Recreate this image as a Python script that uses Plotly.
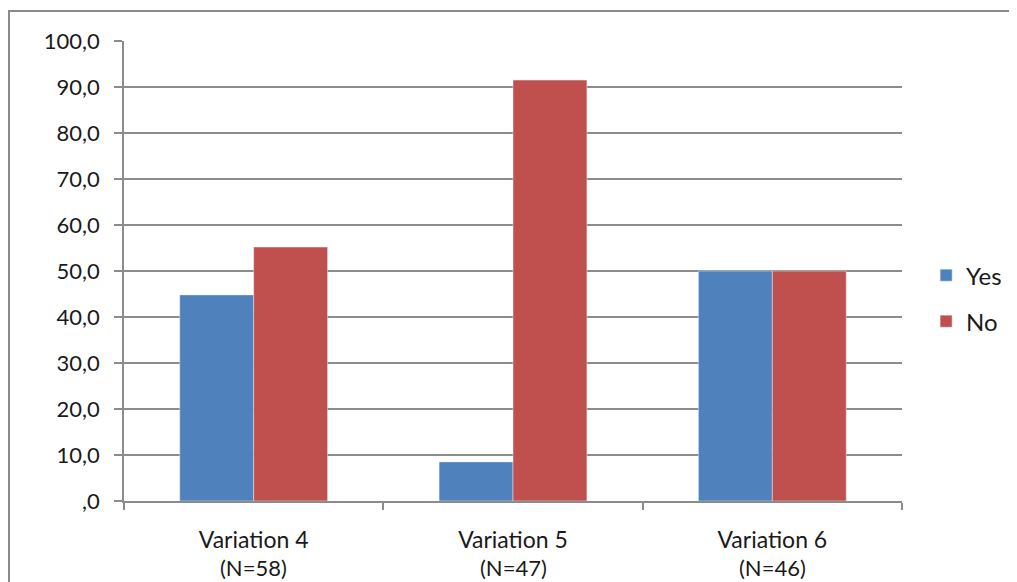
import plotly.graph_objects as go

categories = ["Variation 4", "Variation 5", "Variation 6"]
n_labels = ["(N=58)", "(N=47)", "(N=46)"]
yes_values = [44.8, 8.5, 50.0]
no_values = [55.2, 91.5, 50.0]
y_tick_values = [0, 10, 20, 30, 40, 50, 60, 70, 80, 90, 100]
y_tick_labels = [",0", "10,0", "20,0", "30,0", "40,0", "50,0", "60,0", "70,0", "80,0", "90,0", "100,0"]

FONT = "Lato, 'Open Sans', sans-serif"
GRAY = "#8c8c8c"
TXT = "#1a1a1a"

fig = go.Figure()
fig.add_trace(go.Bar(name="Yes", x=categories, y=yes_values, marker_color="#4F81BD",
                     legend="legend", showlegend=True))
fig.add_trace(go.Bar(name="No", x=categories, y=no_values, marker_color="#C0504D",
                     legend="legend2", showlegend=True))

legend_common = dict(font=dict(family=FONT, size=24, color=TXT),
                     bgcolor="rgba(0,0,0,0)", xanchor="left", yanchor="middle",
                     itemwidth=30, visible=True)

# body has an 8px default margin, so the figure is offset by 8px
L, T = 116, 33
PW, PH = 778, 460
annotations = [dict(x=c, y=0, xref="x", yref="paper", text=n, showarrow=False,
                    yanchor="middle", yshift=-66, font=dict(family=FONT, size=22, color=TXT))
               for c, n in zip(categories, n_labels)]

fig.update_layout(
    width=1017, height=582, showlegend=True,
    margin=dict(l=L, r=1017 - L - PW, t=T, b=582 - T - PH),
    paper_bgcolor="white", plot_bgcolor="white",
    barmode="group", bargap=0.43, bargroupgap=0,
    font=dict(family=FONT, size=22, color=TXT),
    legend=dict(x=1.031, y=0.49, **legend_common),
    legend2=dict(x=1.031, y=0.39, **legend_common),
    xaxis=dict(showline=True, linecolor=GRAY, linewidth=1.5,
               ticks="outside", tickson="boundaries", ticklen=7, tickcolor=GRAY,
               tickwidth=1.5, ticklabelstandoff=18, showgrid=False,
               tickfont=dict(family=FONT, size=23, color=TXT)),
    yaxis=dict(range=[0, 100], tickvals=y_tick_values, ticktext=y_tick_labels,
               showline=True, linecolor=GRAY, linewidth=1.5,
               ticks="outside", ticklen=8, tickcolor=GRAY, tickwidth=1.5,
               showgrid=True, gridcolor=GRAY, gridwidth=1.5,
               ticklabelstandoff=10, zeroline=False),
    annotations=annotations,
    shapes=[dict(type="rect", xref="paper", yref="paper",
                 x0=(9 - 124) / PW, x1=1.3, y0=-0.4, y1=(501 - 11) / PH,
                 line=dict(color="#8a8a8a", width=2), layer="below")],
)

fig.write_html("out.html")
